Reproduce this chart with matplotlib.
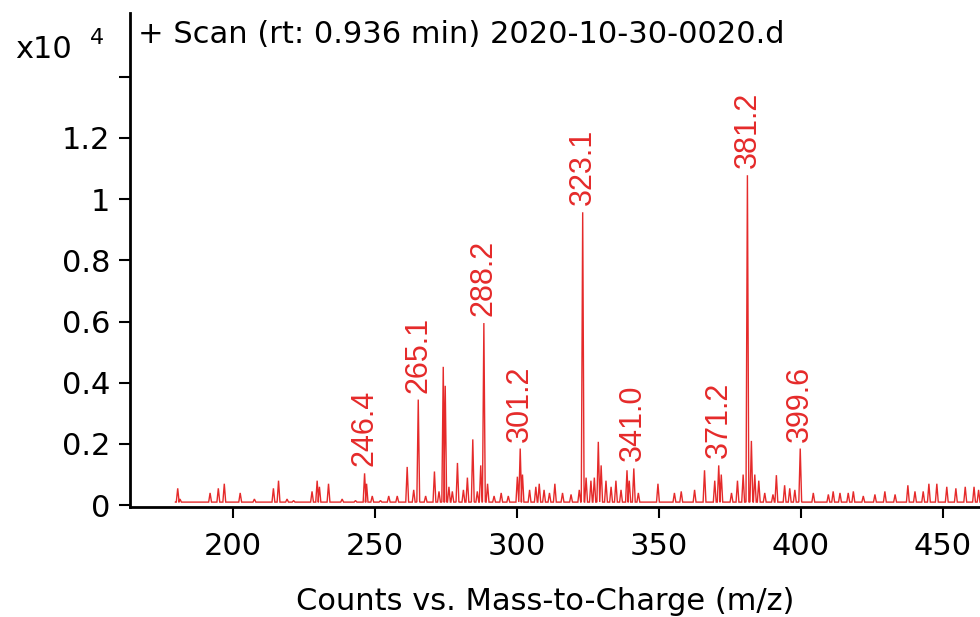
import matplotlib
matplotlib.use("Agg")
import matplotlib.pyplot as plt
import numpy as np

plt.rcParams['font.family'] = ['DejaVu Sans']

# peak list (m/z, intensity in units of 1e4 counts)
peak_mz = [180.6, 181.4, 192.0, 194.9, 197.0, 202.6, 207.6, 214.3, 216.1, 219.1,
           221.4, 227.9, 229.7, 230.5, 233.7, 238.5, 243.2, 246.4, 247.1, 249.1,
           252.0, 254.9, 257.9, 261.4, 263.7, 265.3, 267.9, 271.0, 272.6, 274.1,
           274.8, 276.1, 277.3, 279.1, 281.2, 282.6, 284.5, 286.1, 287.3, 288.4,
           289.7, 292.0, 294.5, 297.0, 300.2, 301.2, 302.0, 304.5, 306.7, 307.9,
           309.6, 311.5, 313.4, 316.1, 319.1, 322.0, 323.2, 324.4, 326.1, 327.3,
           328.7, 329.7, 331.4, 333.2, 334.9, 336.7, 338.8, 339.6, 341.2, 342.8,
           349.7, 355.5, 357.9, 362.6, 366.1, 369.7, 371.1, 372.0, 375.6, 377.7,
           379.7, 381.2, 382.6, 383.8, 385.2, 387.3, 390.2, 391.4, 394.3, 396.1,
           397.9, 399.8, 404.4, 409.7, 411.4, 413.8, 416.7, 418.5, 422.0, 426.1,
           429.6, 433.2, 437.7, 440.2, 443.1, 445.1, 447.9, 451.4, 454.6, 457.9,
           461.0, 462.6]
peak_int = [0.055, 0.020, 0.040, 0.055, 0.070, 0.040, 0.020, 0.055, 0.080, 0.020,
            0.015, 0.045, 0.080, 0.060, 0.070, 0.020, 0.015, 0.104, 0.070, 0.030,
            0.015, 0.030, 0.030, 0.125, 0.050, 0.345, 0.030, 0.110, 0.045, 0.452,
            0.390, 0.060, 0.045, 0.138, 0.050, 0.090, 0.215, 0.045, 0.130, 0.595,
            0.070, 0.030, 0.040, 0.030, 0.093, 0.185, 0.100, 0.050, 0.060, 0.070,
            0.050, 0.040, 0.070, 0.040, 0.035, 0.050, 0.957, 0.090, 0.080, 0.090,
            0.207, 0.130, 0.080, 0.060, 0.080, 0.050, 0.114, 0.080, 0.120, 0.040,
            0.070, 0.040, 0.045, 0.050, 0.114, 0.080, 0.130, 0.100, 0.040, 0.080,
            0.100, 1.078, 0.210, 0.100, 0.080, 0.040, 0.035, 0.098, 0.065, 0.055,
            0.050, 0.185, 0.040, 0.035, 0.045, 0.040, 0.040, 0.045, 0.030, 0.035,
            0.045, 0.035, 0.065, 0.045, 0.045, 0.070, 0.070, 0.060, 0.055, 0.060,
            0.060, 0.050]
baseline = 0.010
scan_start, scan_end = 179.8, 470.0

label_text = ['246.4', '265.1', '288.2', '301.2', '323.1', '341.0', '371.2', '381.2', '399.6']
label_mz = [246.4, 265.3, 288.4, 301.2, 323.2, 341.0, 371.1, 381.2, 399.8]

y_ticks = [0, 0.2, 0.4, 0.6, 0.8, 1.0, 1.2, 1.4]
y_ticklabels = ['0', '0.2', '0.4', '0.6', '0.8', '1', '1.2', '']
x_ticks = [200, 250, 300, 350, 400, 450]

title = '+ Scan (rt: 0.936 min) 2020-10-30-0020.d'
xlabel = 'Counts vs. Mass-to-Charge (m/z)'

RED = '#e52a2a'

# build profile trace from the stick list
hw = 0.5
xs = [scan_start]
ys = [baseline]
for m, h in zip(peak_mz, peak_int):
    xs += [m - hw, m, m + hw]
    ys += [baseline, h, baseline]
xs.append(scan_end)
ys.append(baseline)

fig = plt.figure(figsize=(9.8, 6.17), dpi=100)
ax_w = 1 - 130 / 980 + 0.02
ax = fig.add_axes([130 / 980, 1 - 507 / 617, ax_w, (507 - 12.7) / 617])

ax.plot(xs, ys, color=RED, lw=1.0, solid_joinstyle='miter')

ax.set_xlim(163.8, 470.0)
ax.set_ylim(-0.006, 1.609)

pm = np.array(peak_mz)
pi = np.array(peak_int)
for t, m in zip(label_text, label_mz):
    h = pi[np.argmin(np.abs(pm - m))]
    ax.annotate(t, (m, h), xytext=(0, 5), textcoords='offset points',
                rotation=90, ha='center', va='bottom', color=RED, fontsize=22,
                family='Liberation Sans')

ax.set_yticks(y_ticks)
ax.set_yticklabels(y_ticklabels)
ax.set_xticks(x_ticks)
ax.tick_params(axis='both', direction='out', length=8, width=1.5, labelsize=22,
               colors='black', pad=6)
ax.tick_params(axis='x', pad=10)
for s in ['top', 'right']:
    ax.spines[s].set_visible(False)
for s in ['left', 'bottom']:
    ax.spines[s].set_linewidth(2)

ax.text(0.009, 0.955, title, transform=ax.transAxes, ha='left', va='center', fontsize=22)
fig.text(15 / 980, 1 - 50 / 617, 'x10', ha='left', va='center', fontsize=22)
fig.text(97 / 980, 1 - 38 / 617, '4', ha='center', va='center', fontsize=16)

ax.set_xlabel(xlabel, fontsize=22)
ax.xaxis.set_label_coords((545 - 130) / (980 * ax_w), -0.192)
ax.xaxis.label.set_va('center')

fig.savefig('out.png', dpi=100)
